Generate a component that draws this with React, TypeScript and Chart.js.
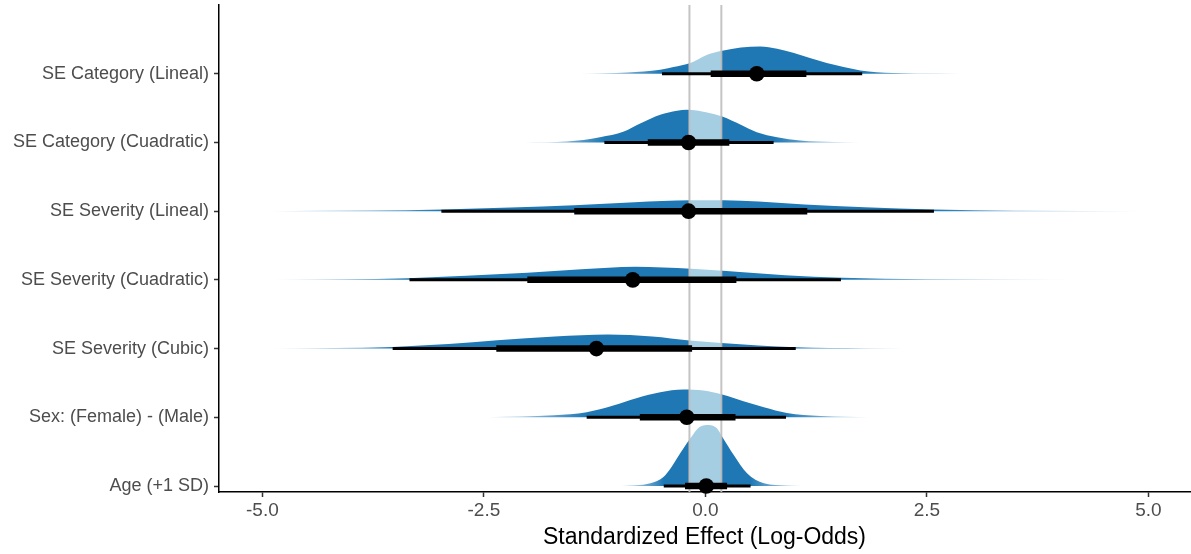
import React, { useEffect, useRef } from "react";
import { Chart, registerables } from "chart.js";

Chart.register(...registerables);

// ---------- data ----------
// rows from bottom (1) to top (7)
const rowLabels = [
  "Age (+1 SD)",
  "Sex: (Female) - (Male)",
  "SE Severity (Cubic)",
  "SE Severity (Cuadratic)",
  "SE Severity (Lineal)",
  "SE Category (Cuadratic)",
  "SE Category (Lineal)",
];

const xTicks = [-5, -2.5, 0, 2.5, 5];
const rope = [-0.18, 0.18];

const medians = [0.01, -0.21, -1.23, -0.82, -0.19, -0.19, 0.58];
const lo66 = [-0.23, -0.74, -2.36, -2.01, -1.48, -0.65, 0.06];
const hi66 = [0.245, 0.34, -0.15, 0.35, 1.15, 0.27, 1.14];
const lo95 = [-0.47, -1.34, -3.53, -3.34, -2.98, -1.14, -0.49];
const hi95 = [0.51, 0.91, 1.02, 1.53, 2.58, 0.77, 1.77];

// posterior density heights (in reference pixels)
const ageX = [-0.95, -0.62, -0.47, -0.39, -0.32, -0.17, -0.06, 0.04, 0.13, 0.19, 0.32, 0.47, 0.66, 0.92, 1.1];
const ageH = [0, 2.7, 9.3, 18, 27.7, 47.7, 59.3, 61, 57.7, 49.3, 31, 12.7, 2.7, 0.5, 0];

const sexX = [-2.46, -1.71, -1.34, -1.04, -0.77, -0.51, -0.25, -0.02, 0.19, 0.43, 0.66, 0.92, 1.3, 1.86];
const sexH = [0, 2, 5, 11.7, 19.3, 25, 27.7, 26.7, 22.7, 16, 10, 4.3, 1.3, 0];

const cubicX = [-4.9, -4.2, -3.53, -2.9, -2.35, -1.7, -1.1, -0.6, -0.18, 0.18, 0.6, 1.02, 1.8, 2.72];
const cubicH = [0, 0.5, 1.7, 4.5, 8.3, 12, 14, 12, 8, 5.7, 3.2, 1.3, 0.3, 0];

const sevQuadX = [-4.89, -4.1, -3.36, -2.7, -2.01, -1.4, -0.79, -0.16, 0.2, 0.35, 0.9, 1.55, 2.5, 4.18];
const sevQuadH = [0, 0.6, 1.7, 4, 7, 10.5, 13, 11, 9, 8, 4.5, 2, 0.5, 0];

const sevLinX = [-4.94, -3.8, -2.96, -2.2, -1.48, -0.8, -0.17, 0.21, 0.6, 1.12, 1.8, 2.57, 3.5, 5.0];
const sevLinH = [0, 0.6, 1.7, 3.6, 6, 9, 11, 10.8, 9.6, 6.7, 3.8, 1.7, 0.5, 0];

const catQuadX = [-2.05, -1.56, -1.19, -0.92, -0.73, -0.51, -0.32, -0.21, 0.02, 0.19, 0.4, 0.58, 0.81, 1.07, 1.45, 1.75];
const catQuadH = [0, 1, 5.3, 11, 19.3, 27.7, 31.7, 32.7, 30, 26, 17.7, 10.3, 5.3, 2, 0.5, 0];

const catLinX = [-1.41, -0.88, -0.51, -0.36, -0.17, 0.02, 0.19, 0.4, 0.62, 0.81, 1.0, 1.18, 1.37, 1.56, 1.75, 2.12, 3.14];
const catLinH = [0, 1.3, 4, 6.7, 10.7, 19, 23, 26.3, 27.3, 25, 20.7, 15.7, 10.7, 6.7, 3.3, 0.7, 0];

const densX = [ageX, sexX, cubicX, sevQuadX, sevLinX, catQuadX, catLinX];
const densH = [ageH, sexH, cubicH, sevQuadH, sevLinH, catQuadH, catLinH];

// ---------- style ----------
const X_MIN = -5.49;
const X_MAX = 5.47;
const Y_MIN = 0.913;
const Y_MAX = 8.0;
const H_SCALE = 1 / 68.7;
const FONT = "'Liberation Sans', Arial, Helvetica, sans-serif";
const DARK = "31,120,180";
const LIGHT = "#a6cee3";

function makeFill(i: number) {
  return (ctx: any) => {
    const chart = ctx.chart;
    const xs = chart.scales && chart.scales.x;
    if (!chart.chartArea || !xs) return `rgb(${DARK})`;
    const arr = densX[i];
    const a = xs.getPixelForValue(arr[0]);
    const b = xs.getPixelForValue(arr[arr.length - 1]);
    const g = chart.ctx.createLinearGradient(a, 0, b, 0);
    const f = (v: number) => Math.min(1, Math.max(0, (xs.getPixelForValue(v) - a) / (b - a)));
    const dark = (al: number) => `rgba(${DARK},${al})`;
    const stops: [number, string][] = [
      [0, dark(0.15)],
      [f(lo95[i]), dark(1)],
      [f(rope[0]), dark(1)],
      [f(rope[0]), LIGHT],
      [f(rope[1]), LIGHT],
      [f(rope[1]), dark(1)],
      [f(hi95[i]), dark(1)],
      [1, dark(0.15)],
    ];
    stops.forEach(([o, c]) => g.addColorStop(o, c));
    return g;
  };
}

export default function App() {
  const ref = useRef<HTMLCanvasElement | null>(null);

  useEffect(() => {
    document.body.style.margin = "0";
    const canvas = ref.current;
    if (!canvas) return;

    const datasets: any[] = [];

    // medians (dots)
    datasets.push({
      type: "line",
      data: medians.map((m, i) => ({ x: m, y: i + 1 })),
      showLine: false,
      pointRadius: 7.8,
      pointBackgroundColor: "#000",
      pointBorderWidth: 0,
      order: 0,
      clip: false,
    });

    // intervals
    for (let i = 0; i < rowLabels.length; i++) {
      datasets.push({
        type: "line",
        data: [
          { x: lo66[i], y: i + 1 },
          { x: hi66[i], y: i + 1 },
        ],
        borderColor: "#000",
        borderWidth: 6.5,
        borderCapStyle: "butt",
        pointRadius: 0,
        order: 1,
        clip: false,
      });
      datasets.push({
        type: "line",
        data: [
          { x: lo95[i], y: i + 1 },
          { x: hi95[i], y: i + 1 },
        ],
        borderColor: "#000",
        borderWidth: 3,
        borderCapStyle: "butt",
        pointRadius: 0,
        order: 1,
        clip: false,
      });
    }

    // ROPE lines
    rope.forEach((r) => {
      datasets.push({
        type: "line",
        data: [
          { x: r, y: Y_MIN },
          { x: r, y: Y_MAX },
        ],
        borderColor: "rgba(190,190,190,0.9)",
        borderWidth: 2,
        pointRadius: 0,
        order: 2,
      });
    });

    // densities
    for (let i = 0; i < rowLabels.length; i++) {
      datasets.push({
        type: "line",
        data: densX[i].map((x, j) => ({ x, y: i + 1 + densH[i][j] * H_SCALE })),
        borderWidth: 0,
        borderColor: "rgba(0,0,0,0)",
        backgroundColor: makeFill(i),
        fill: { value: i + 1 },
        pointRadius: 0,
        cubicInterpolationMode: "monotone",
        order: 3,
      });
    }

    const chart = new Chart(canvas, {
      type: "line",
      data: { datasets },
      options: {
        animation: false,
        responsive: false,
        devicePixelRatio: 1,
        events: [],
        layout: { autoPadding: false, padding: { top: 5, right: 1, left: 0, bottom: 0 } },
        plugins: { legend: { display: false }, tooltip: { enabled: false } },
        scales: {
          x: {
            type: "linear",
            min: X_MIN,
            max: X_MAX,
            afterBuildTicks: (s: any) => {
              s.ticks = xTicks.map((v) => ({ value: v }));
            },
            afterFit: (s: any) => {
              s.height = 62;
              s.paddingLeft = 0;
              s.paddingRight = 0;
            },
            ticks: {
              callback: (v: any) => Number(v).toFixed(1),
              color: "#4d4d4d",
              font: { size: 19, family: FONT },
              padding: 2,
              maxRotation: 0,
              autoSkip: false,
            },
            grid: {
              drawOnChartArea: false,
              drawTicks: true,
              tickLength: 5,
              tickColor: "#333",
              tickWidth: 1.5,
            },
            border: { display: true, color: "#000", width: 1.5 },
            title: {
              display: true,
              text: "Standardized Effect (Log-Odds)",
              color: "#000",
              font: { size: 23, family: FONT, lineHeight: 1.2 },
              padding: { top: 0, bottom: 3 },
            },
          },
          y: {
            type: "linear",
            min: Y_MIN,
            max: Y_MAX,
            afterBuildTicks: (s: any) => {
              s.ticks = rowLabels.map((_, i) => ({ value: i + 1 }));
            },
            afterFit: (s: any) => {
              s.width = 219;
              s.paddingTop = 0;
              s.paddingBottom = 0;
            },
            ticks: {
              callback: (v: any) => rowLabels[Math.round(Number(v)) - 1] ?? "",
              color: "#4d4d4d",
              font: { size: 18, family: FONT },
              padding: 5,
              autoSkip: false,
            },
            grid: {
              drawOnChartArea: false,
              drawTicks: true,
              tickLength: 5,
              tickColor: "#333",
              tickWidth: 1.5,
            },
            border: { display: true, color: "#000", width: 1.5 },
          },
        },
      },
    } as any);

    return () => chart.destroy();
  }, []);

  return (
    <div style={{ width: 1191, height: 554, background: "#fff" }}>
      <canvas ref={ref} width={1191} height={554} style={{ display: "block" }} />
    </div>
  );
}
